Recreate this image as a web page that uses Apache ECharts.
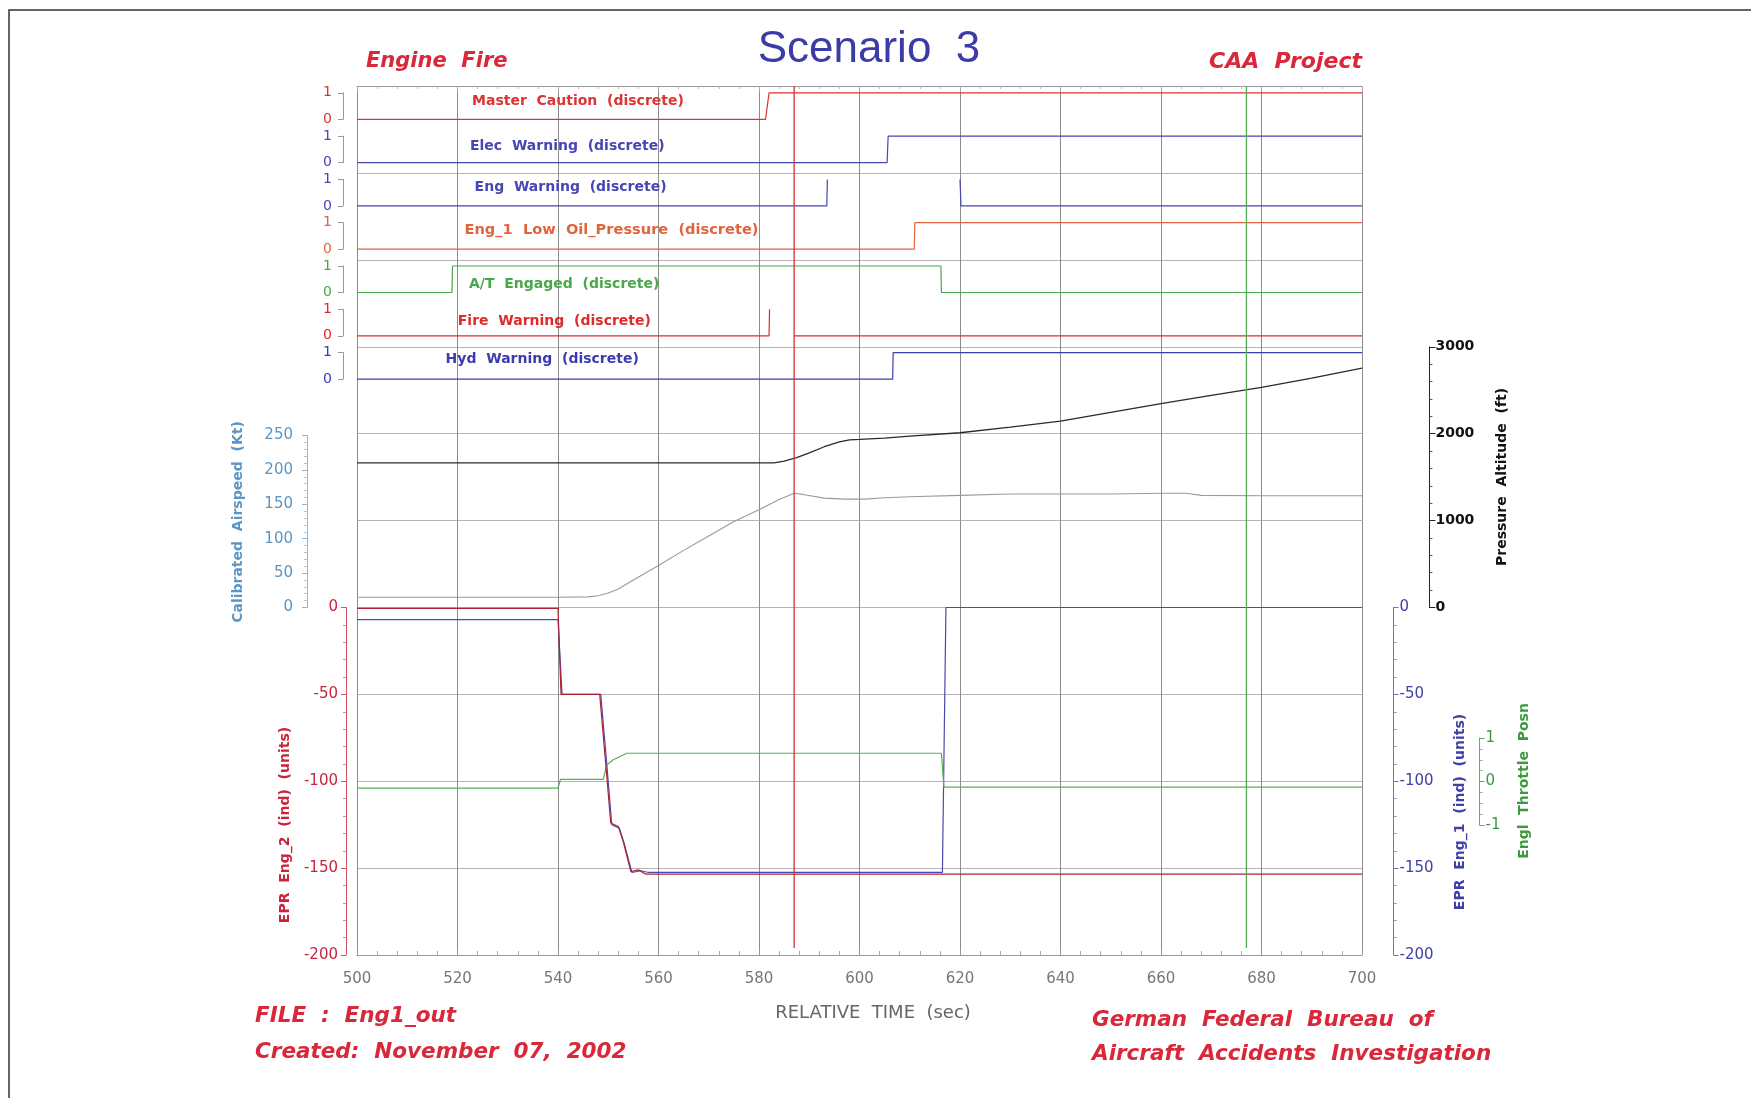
<!DOCTYPE html>
<html><head><meta charset="utf-8">
<script src="https://cdn.jsdelivr.net/npm/echarts/dist/echarts.min.js"></script>
<style>html,body{margin:0;padding:0;background:#fff}#c{width:1751px;height:1098px}</style>
</head><body><div id="c"></div>
<script>
// ---------------- DATA ----------------
const timeRange = [500, 700];
const timeStep = 20;
// discrete signals [time, value]
const masterCaution = [[500,0],[581.3,0],[582,1],[700,1]];
const elecWarning   = [[500,0],[605.5,0],[605.7,1],[700,1]];
const engWarning    = [[500,0],[593.5,0],[593.6,1],[607,'-'],[620,1],[620.2,0],[700,0]];
const oilPressure   = [[500,0],[610.9,0],[611,1],[700,1]];
const atEngaged     = [[500,0],[518.9,0],[519,1],[616.2,1],[616.3,0],[700,0]];
const fireWarning   = [[500,0],[582,0],[582.1,1],[584,'-'],[587,0],[700,0]];
const hydWarning    = [[500,0],[606.6,0],[606.7,1],[700,1]];
// pressure altitude (ft)
const altitude = [[500,1665],[583,1665],[585,1685],[587.5,1725],[590,1780],[593,1850],[596,1905],[598,1930],[600,1935],[605,1950],[610,1972],[620,2011],[630,2075],[640,2145],[650,2245],[660,2347],[670,2440],[680,2533],[690,2640],[700,2754]];
// calibrated airspeed (kt)
const airspeed = [[500,15],[540,15],[546,15.5],[548,17],[550,21],[552,27],[555,40],[560,61],[565,83],[570,104],[575,125],[580,142],[584,157],[587,166],[589,164],[593,159],[597,157.5],[601,157.5],[605,159.5],[610,161],[620,163],[630,165],[640,165],[650,165],[660,166],[665,166],[668,163],[680,162.5],[700,162.5]];
// EPR (ind) units
const eprEng2 = [[500,-0.5],[540,-0.5],[540.6,-50],[548.3,-50],[549.5,-90],[550.5,-124],[552,-126],[553,-135],[554.5,-152],[556,-151],[557.5,-153.5],[700,-153.5]];
const eprEng1 = [[500,-7],[540,-7],[540.8,-50],[548.5,-50],[549.7,-90],[550.7,-125],[552.2,-127],[553.2,-136],[554.7,-152.5],[556.5,-151.5],[558,-152.5],[616.5,-152.5],[617.2,0],[700,0]];
// Eng1 throttle position
const throttle = [[500,-0.15],[540,-0.15],[540.5,0.05],[549,0.05],[549.7,0.38],[551,0.5],[553.7,0.65],[616.3,0.65],[616.8,-0.13],[700,-0.13]];
// event markers (time)
const markerRed = [[587,0.008],[587,1]];
const markerGreen = [[677,0.008],[677,1]];

const stripNames = ['Master  Caution  (discrete)','Elec  Warning  (discrete)','Eng  Warning  (discrete)','Eng_1  Low  Oil_Pressure  (discrete)','A/T  Engaged  (discrete)','Fire  Warning  (discrete)','Hyd  Warning  (discrete)'];
const stripData = [masterCaution, elecWarning, engWarning, oilPressure, atEngaged, fireWarning, hydWarning];

// ---------------- LAYOUT / STYLE ----------------
const FONT = '"Liberation Sans", Arial, Helvetica, sans-serif';
const WFONT = '"DejaVu Sans", Verdana, sans-serif';
const stripColors = ['#dd3333','#4646b4','#4646b4','#e0653e','#49a849','#e02a2a','#3c3cb0'];
const stripTops = [92.8,136.1,179.4,222.7,266,309.3,352.6];
const stripH = 26.5;
const stripLabelPos = [[472,101.6],[470,146.3],[474.6,187.6],[464.5,230],[469,284.7],[457.8,321.6],[445.6,359.6]];
const stripLabelSize = [14,14,14,14.6,14,14,14];
const L = 357, R = 389;
const VGRID = '#8c8c8c', HGRID = '#b4b4b4';

const grids = [], xAxes = [], yAxes = [], series = [];
function addGrid(top, height){ grids.push({left:L, right:R, top:top, height:height}); return grids.length-1; }
function hiddenX(g){ xAxes.push({type:'value', gridIndex:g, min:timeRange[0], max:timeRange[1], show:false}); return xAxes.length-1; }
function line(name, data, xi, yi, color, width, z){
  series.push({name:name, type:'line', data:data, xAxisIndex:xi, yAxisIndex:yi, showSymbol:false, symbol:'none',
    clip:false, connectNulls:false, animation:false, silent:true, z:z||3,
    lineStyle:{color:color, width:width||1}});
}
const plain = v => String(v);

// main grid (vertical grid + time axis)
const g0 = addGrid(86, 869);
xAxes.push({type:'value', gridIndex:g0, min:timeRange[0], max:timeRange[1], interval:timeStep, position:'bottom',
  axisLine:{show:true, lineStyle:{color:'#999'}},
  axisTick:{show:true, inside:true, length:7, lineStyle:{color:'#999'}},
  minorTick:{show:true, splitNumber:5, length:4, lineStyle:{color:'#aaa'}},
  axisLabel:{color:'#777', fontSize:15, margin:17, fontFamily:WFONT, formatter:plain},
  splitLine:{show:true, lineStyle:{color:VGRID, width:1}}});
xAxes.push({type:'value', gridIndex:g0, min:timeRange[0], max:timeRange[1], interval:timeStep, position:'top',
  axisLine:{show:true, lineStyle:{color:'#999'}},
  axisTick:{show:true, inside:true, length:6, lineStyle:{color:'#aaa'}},
  minorTick:{show:true, splitNumber:5, length:3, lineStyle:{color:'#bbb'}},
  axisLabel:{show:false}, splitLine:{show:false}});
yAxes.push({type:'value', gridIndex:g0, min:0, max:1, show:false});
const y0 = 0;

// top panel horizontal grid (altitude scale 0-6000)
const g1 = addGrid(86, 521.5);
const x1 = hiddenX(g1);
yAxes.push({type:'value', gridIndex:g1, min:0, max:6000, interval:1000,
  axisLine:{show:false}, axisTick:{show:false}, axisLabel:{show:false},
  splitLine:{show:true, lineStyle:{color:HGRID}}});

// altitude axis grid
const g2 = addGrid(346.8, 260.7);
const x2 = hiddenX(g2);
yAxes.push({type:'value', gridIndex:g2, min:0, max:3000, interval:1000, position:'right', offset:67.4,
  axisLine:{show:true, lineStyle:{color:'#222'}},
  axisTick:{show:true, length:6, lineStyle:{color:'#222'}},
  minorTick:{show:true, splitNumber:5, length:3, lineStyle:{color:'#555'}},
  axisLabel:{color:'#111', fontSize:14, fontWeight:'bold', margin:6, fontFamily:WFONT, formatter:plain},
  splitLine:{show:false}});
const yAlt = yAxes.length-1;
line('Pressure Altitude', altitude, x2, yAlt, '#2a2a2a', 1.3, 4);

// airspeed axis grid
const g3 = addGrid(435.5, 172);
const x3 = hiddenX(g3);
yAxes.push({type:'value', gridIndex:g3, min:0, max:250, interval:50, position:'left', offset:50,
  axisLine:{show:true, lineStyle:{color:'#8fb8d8'}},
  axisTick:{show:true, length:5, lineStyle:{color:'#8fb8d8'}},
  minorTick:{show:true, splitNumber:5, length:3, lineStyle:{color:'#a9c8e0'}},
  axisLabel:{color:'#5b95c4', fontSize:15, margin:14, fontFamily:WFONT, formatter:plain},
  splitLine:{show:false}});
const yAs = yAxes.length-1;
line('Calibrated Airspeed', airspeed, x3, yAs, '#9a9a9a', 1.1, 3);

// discrete strips
stripData.forEach((d,i)=>{
  const g = addGrid(stripTops[i], stripH);
  const xi = hiddenX(g);
  yAxes.push({type:'value', gridIndex:g, min:0, max:1, interval:1, position:'left', offset:14,
    axisLine:{show:true, lineStyle:{color:'#999'}},
    axisTick:{show:true, length:5, lineStyle:{color:'#999'}},
    axisLabel:{color:stripColors[i], fontSize:14, margin:11, fontFamily:WFONT},
    splitLine:{show:false}});
  line(stripNames[i], d, xi, yAxes.length-1, stripColors[i], 1.2, 5);
});

// EPR grid
const g11 = addGrid(607.5, 347.5);
const x11 = hiddenX(g11);
yAxes.push({type:'value', gridIndex:g11, min:-200, max:0, interval:50, position:'left', offset:11,
  axisLine:{show:true, lineStyle:{color:'#cc5566'}},
  axisTick:{show:true, length:5, lineStyle:{color:'#cc5566'}},
  minorTick:{show:true, splitNumber:5, length:3, lineStyle:{color:'#d88'}},
  axisLabel:{color:'#c8243c', fontSize:15, margin:8, fontFamily:WFONT},
  splitLine:{show:true, lineStyle:{color:HGRID}}});
const yE2 = yAxes.length-1;
yAxes.push({type:'value', gridIndex:g11, min:-200, max:0, interval:50, position:'right', offset:31.6,
  axisLine:{show:true, lineStyle:{color:'#7070c0'}},
  axisTick:{show:true, length:5, lineStyle:{color:'#7070c0'}},
  minorTick:{show:true, splitNumber:5, length:3, lineStyle:{color:'#9090cc'}},
  axisLabel:{color:'#4040a8', fontSize:15, margin:6, fontFamily:WFONT},
  splitLine:{show:false}});
const yE1 = yAxes.length-1;
line('EPR Eng_1', eprEng1, x11, yE1, '#4a4ab0', 1.2, 4);
line('EPR Eng_2', eprEng2, x11, yE2, '#b02035', 1.2, 5);

// throttle grid
const g12 = addGrid(738, 87);
const x12 = hiddenX(g12);
yAxes.push({type:'value', gridIndex:g12, min:-1, max:1, interval:1, position:'right', offset:117.6,
  axisLine:{show:true, lineStyle:{color:'#66aa66'}},
  axisTick:{show:true, length:5, lineStyle:{color:'#66aa66'}},
  minorTick:{show:true, splitNumber:4, length:3, lineStyle:{color:'#88bb88'}},
  axisLabel:{color:'#3c9a3c', fontSize:15, margin:6, fontFamily:WFONT},
  splitLine:{show:false}});
const yTh = yAxes.length-1;
line('Eng1 Throttle Posn', throttle, x12, yTh, '#5aae5a', 1.2, 4);

// event markers
line('marker red', markerRed, 0, y0, '#cc3333', 1.3, 6);
line('marker green', markerGreen, 0, y0, '#55aa55', 1.3, 6);

// ---------------- TEXT ----------------
const red = '#d8283a';
function txt(x,y,s,o){ return Object.assign({type:'text', x:x, y:y, silent:true, z:20,
  style:Object.assign({text:s, fontFamily:WFONT, textVerticalAlign:'middle'}, o.style)}, o.el||{}); }
const graphic = [
  {type:'rect', shape:{x:9, y:10, width:1800, height:1200}, style:{fill:'none', stroke:'#333', lineWidth:1.5}, silent:true, z:1},
  txt(869,50,'Scenario  3',{style:{fontSize:44, fill:'#3c3ca8', textAlign:'center', fontFamily:FONT}}),
  txt(366,62,'Engine  Fire',{style:{fontSize:21, fontStyle:'italic', fontWeight:'bold', fill:red, textAlign:'left'}}),
  txt(1362,62,'CAA  Project',{style:{fontSize:22, fontStyle:'italic', fontWeight:'bold', fill:red, textAlign:'right'}}),
  txt(255,1016,'FILE  :  Eng1_out',{style:{fontSize:21.5, fontStyle:'italic', fontWeight:'bold', fill:red, textAlign:'left'}}),
  txt(255,1052,'Created:  November  07,  2002',{style:{fontSize:21.5, fontStyle:'italic', fontWeight:'bold', fill:red, textAlign:'left'}}),
  txt(1092,1020,'German  Federal  Bureau  of',{style:{fontSize:21.5, fontStyle:'italic', fontWeight:'bold', fill:red, textAlign:'left'}}),
  txt(1092,1054,'Aircraft  Accidents  Investigation',{style:{fontSize:21.5, fontStyle:'italic', fontWeight:'bold', fill:red, textAlign:'left'}}),
  txt(873,1013,'RELATIVE  TIME  (sec)',{style:{fontSize:18, fill:'#666', textAlign:'center'}}),
  txt(238,522,'Calibrated  Airspeed  (Kt)',{style:{fontSize:14, fontWeight:'bold', fill:'#5b95c4', textAlign:'center'}, el:{rotation:Math.PI/2}}),
  txt(285,825,'EPR  Eng_2  (ind)  (units)',{style:{fontSize:14, fontWeight:'bold', fill:'#c8243c', textAlign:'center'}, el:{rotation:Math.PI/2}}),
  txt(1460,812,'EPR  Eng_1  (ind)  (units)',{style:{fontSize:14, fontWeight:'bold', fill:'#4040a8', textAlign:'center'}, el:{rotation:Math.PI/2}}),
  txt(1524,781,'Engl  Throttle  Posn',{style:{fontSize:14, fontWeight:'bold', fill:'#3c9a3c', textAlign:'center'}, el:{rotation:Math.PI/2}}),
  txt(1502,477,'Pressure  Altitude  (ft)',{style:{fontSize:14, fontWeight:'bold', fill:'#111', textAlign:'center'}, el:{rotation:Math.PI/2}})
];
stripNames.forEach((s,i)=>{
  graphic.push(txt(stripLabelPos[i][0], stripLabelPos[i][1], s, {style:{fontSize:stripLabelSize[i], fontWeight:'bold', fill:stripColors[i], textAlign:'left'}}));
});

const chart = echarts.init(document.getElementById('c'), null, {renderer:'canvas'});
chart.setOption({
  animation:false,
  backgroundColor:'#ffffff',
  textStyle:{fontFamily:FONT},
  grid:grids, xAxis:xAxes, yAxis:yAxes, series:series, graphic:graphic
});
</script></body></html>
